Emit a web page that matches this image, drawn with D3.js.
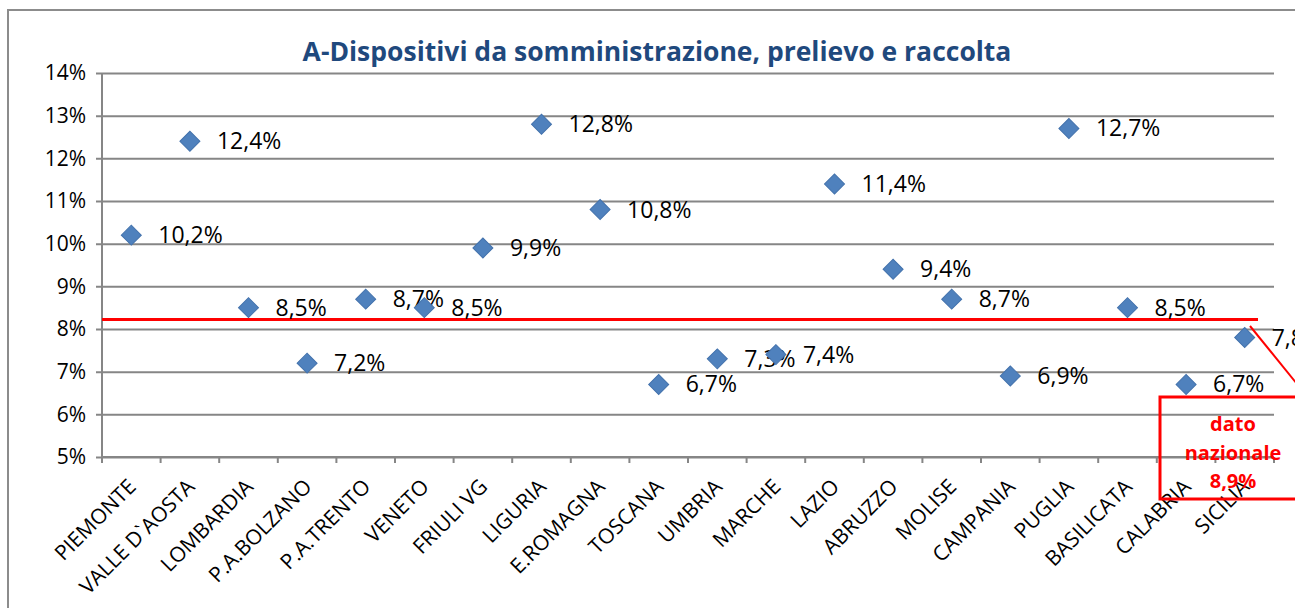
<!DOCTYPE html>
<html lang="it">
<head>
<meta charset="UTF-8">
<title>A-Dispositivi da somministrazione, prelievo e raccolta</title>
<script src="https://cdn.jsdelivr.net/npm/d3@7/dist/d3.min.js"></script>
<style>
  body { margin: 0; background: #fff; overflow: hidden; }
  svg { display: block; font-family: 'Open Sans', sans-serif; }
</style>
</head>
<body>
<svg id="chart" width="1295" height="608"></svg>
<script>
// regioni
const regions = ["PIEMONTE", "VALLE D`AOSTA", "LOMBARDIA", "P.A.BOLZANO", "P.A.TRENTO", "VENETO",
  "FRIULI VG", "LIGURIA", "E.ROMAGNA", "TOSCANA", "UMBRIA", "MARCHE", "LAZIO", "ABRUZZO",
  "MOLISE", "CAMPANIA", "PUGLIA", "BASILICATA", "CALABRIA", "SICILIA"];
// valori (%)
const values = [10.2, 12.4, 8.5, 7.2, 8.7, 8.5, 9.9, 12.8, 10.8, 6.7, 7.3, 7.4, 11.4, 9.4, 8.7, 6.9, 12.7, 8.5, 6.7, 7.8];
const yTicks = [5, 6, 7, 8, 9, 10, 11, 12, 13, 14];
// linea rossa disegnata a mano sul grafico originale
const nationalLine = 8.22;
const nationalLabel = ["dato", "nazionale", "8,9%"];

const fmt = v => d3.format(".1f")(v).replace(".", ",") + "%";

const svg = d3.select("#chart");
const plotL = 102, plotR = 1274, plotT = 73, plotB = 457;

const x = d3.scaleBand().domain(regions).range([plotL, plotR]);
const y = d3.scaleLinear().domain([5, 14]).range([plotB, plotT]);

// cornice esterna
svg.append("rect")
  .attr("x", 8).attr("y", 10).attr("width", 1400).attr("height", 700)
  .attr("fill", "none").attr("stroke", "#8c8c8c").attr("stroke-width", 2);

// titolo
svg.append("text")
  .attr("x", 657).attr("y", 61)
  .attr("text-anchor", "middle")
  .attr("font-size", 26.5).attr("font-weight", "bold")
  .attr("fill", "#1f497d")
  .text("A-Dispositivi da somministrazione, prelievo e raccolta");

// griglia + asse y
const yAxis = d3.axisLeft(y).tickValues(yTicks).tickSize(-(plotR - plotL)).tickPadding(16)
  .tickFormat(d => d + "%");
const gy = svg.append("g").attr("transform", `translate(${plotL},0)`).call(yAxis);
gy.select(".domain").remove();
gy.selectAll(".tick line").attr("stroke", "#868686").attr("stroke-width", 2).attr("x1", -6);
gy.selectAll(".tick text").attr("font-size", 21).attr("fill", "#000")
  .attr("font-family", "'Open Sans', sans-serif");

// asse y verticale
svg.append("line").attr("x1", plotL).attr("x2", plotL).attr("y1", plotT).attr("y2", plotB)
  .attr("stroke", "#868686").attr("stroke-width", 2);

// asse x
svg.append("line").attr("x1", plotL).attr("x2", plotR).attr("y1", plotB).attr("y2", plotB)
  .attr("stroke", "#868686").attr("stroke-width", 2);
svg.selectAll(".xtick").data(d3.range(regions.length + 1)).enter().append("line")
  .attr("x1", i => plotL + i * x.step()).attr("x2", i => plotL + i * x.step())
  .attr("y1", plotB).attr("y2", plotB + 6)
  .attr("stroke", "#868686").attr("stroke-width", 2);

svg.selectAll(".xlabel").data(regions).enter().append("text")
  .attr("transform", d => `translate(${x(d) + x.bandwidth() / 2 + 6},${plotB + 31}) rotate(-45)`)
  .attr("text-anchor", "end")
  .attr("font-size", 21)
  .attr("fill", "#000")
  .text(d => d);

// linea dato nazionale
svg.append("line")
  .attr("x1", plotL).attr("x2", 1258)
  .attr("y1", y(nationalLine)).attr("y2", y(nationalLine))
  .attr("stroke", "#ff0000").attr("stroke-width", 3);

// punti
const pts = svg.selectAll(".pt").data(values).enter().append("g")
  .attr("transform", (d, i) => `translate(${x(regions[i]) + x.bandwidth() / 2},${y(d)})`);
pts.append("path")
  .attr("d", d3.symbol(d3.symbolSquare, 200))
  .attr("transform", "rotate(45)")
  .attr("fill", "#4f81bd").attr("stroke", "#4372ac").attr("stroke-width", 1);
pts.append("text")
  .attr("x", 27).attr("y", 8)
  .attr("font-size", 23).attr("fill", "#000")
  .text(d => fmt(d));

// riquadro dato nazionale
svg.append("line")
  .attr("x1", 1250).attr("y1", 326).attr("x2", 1310).attr("y2", 400)
  .attr("stroke", "#ff0000").attr("stroke-width", 2);
svg.append("rect")
  .attr("x", 1160).attr("y", 397).attr("width", 200).attr("height", 102)
  .attr("fill", "none").attr("stroke", "#ff0000").attr("stroke-width", 3);
svg.selectAll(".nat").data(nationalLabel).enter().append("text")
  .attr("x", 1233).attr("y", (d, i) => 431 + i * 28.5)
  .attr("text-anchor", "middle")
  .attr("font-size", 20).attr("font-weight", "bold")
  .attr("fill", "#ff0000")
  .text(d => d);
</script>
</body>
</html>
